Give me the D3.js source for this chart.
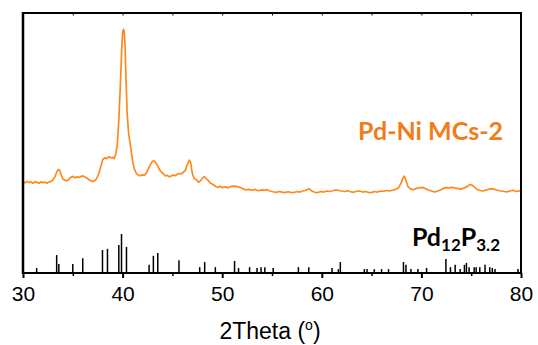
<!DOCTYPE html>
<html><head><meta charset="utf-8">
<script src="https://cdn.jsdelivr.net/npm/d3@7"></script>
<style>body{margin:0;background:#fff}svg{display:block}</style>
</head><body>
<script>
// XRD trace of Pd-Ni MCs-2 (2theta, intensity a.u.)
const twoTheta = [30.0,30.2,30.4,30.6,30.8,31.0,31.2,31.4,31.6,31.8,32.0,32.2,32.4,32.6,32.8,33.0,33.2,33.4,33.55,33.7,33.85,34.0,34.2,34.4,34.6,34.8,35.0,35.2,35.4,35.6,35.8,36.0,36.2,36.4,36.6,36.8,37.0,37.2,37.4,37.6,37.8,38.0,38.2,38.4,38.6,38.8,39.0,39.15,39.3,39.45,39.6,39.75,39.9,40.0,40.08,40.16,40.25,40.35,40.45,40.6,40.75,40.9,41.05,41.2,41.4,41.6,41.8,42.0,42.2,42.4,42.6,42.8,43.0,43.15,43.3,43.5,43.7,43.9,44.1,44.3,44.5,44.7,44.9,45.1,45.3,45.5,45.7,45.9,46.1,46.3,46.5,46.7,46.85,47.0,47.2,47.4,47.6,47.8,48.0,48.2,48.4,48.6,48.8,49.0,49.2,49.4,49.6,49.8,50.0,50.3,50.6,50.9,51.2,51.5,51.8,52.1,52.4,52.7,53.0,53.3,53.6,53.9,54.2,54.5,54.8,55.1,55.4,55.7,56.0,56.3,56.6,56.9,57.2,57.5,57.8,58.1,58.4,58.7,59.0,59.3,59.6,59.9,60.2,60.5,60.8,61.1,61.4,61.7,62.0,62.3,62.6,62.9,63.2,63.5,63.8,64.1,64.4,64.7,65.0,65.3,65.6,65.9,66.2,66.5,66.8,67.1,67.4,67.7,67.95,68.15,68.3,68.45,68.65,68.9,69.2,69.5,69.8,70.1,70.4,70.7,71.0,71.3,71.6,71.9,72.2,72.5,72.8,73.1,73.4,73.7,74.0,74.3,74.6,74.9,75.1,75.35,75.6,75.9,76.2,76.5,76.8,77.1,77.4,77.7,78.0,78.3,78.6,78.9,79.2,79.5,79.8,80.0];
const intensity = [354,349,355,350,353,347,354,351,348,353,350,352,348,353,355,360,372,392,401,396,378,364,359,357,362,371,374,369,372,370,373,376,372,368,362,357,354,358,366,384,410,438,445,442,449,446,447,442,458,490,575,700,850,925,937,930,870,740,620,540,500,460,424,400,385,378,377,380,378,388,405,420,432,434,428,417,400,390,384,376,378,372,376,379,377,383,385,384,390,397,420,436,425,385,365,362,352,356,366,373,365,358,349,345,340,334,333,336,331,334,330,336,337,335,332,326,322,324,321,324,319,322,321,323,318,315,313,316,314,312,315,313,312,316,314,318,321,327,318,313,312,316,314,318,316,319,322,320,318,316,319,315,313,317,318,314,316,312,313,316,314,318,317,320,318,321,324,330,348,368,375,358,335,326,323,328,330,332,327,322,318,314,317,322,328,331,330,332,329,327,325,330,335,343,340,332,324,320,318,322,325,327,324,320,318,316,315,318,321,316,319,317];
// Reference pattern Pd12P3.2 (stick positions and relative intensities)
const refPos = [31.37,33.38,33.6,35.0,36.0,37.98,38.48,39.62,39.89,40.39,42.66,43.09,43.53,45.66,47.74,48.24,49.31,51.24,51.64,52.75,53.5,53.9,54.28,55.12,57.65,58.69,61.03,61.66,61.86,64.27,64.54,65.27,66.0,66.7,68.2,68.45,68.95,69.65,70.52,72.46,72.92,73.39,73.89,74.32,74.52,74.79,75.3,75.5,75.86,76.39,76.86,77.12,77.39,79.7];
const refInt = [13,46,23,23,38,59,62,72,100,67,21,44,51,33,15,28,15,31,13,15,13,15,15,13,15,15,13,10,28,10,10,10,10,10,28,21,10,10,13,36,15,21,10,21,26,15,15,15,15,21,15,13,10,10];
const majorTicks = [30,40,50,60,70,80];
const minorTicks = [35,45,55,65,75];

const W = 538, H = 345;
const svg = d3.select("body").append("svg").attr("width", W).attr("height", H);
const L = 23, R = 521, T = 13, B = 273;
const x = d3.scaleLinear().domain([30, 80]).range([L, R]);
const y = d3.scaleLinear().domain([0, 1000]).range([274, 13]);
const yRef = d3.scaleLinear().domain([0, 100]).range([B, 234]);

// trace
svg.append("path")
  .datum(twoTheta.map((t, i) => [t, intensity[i]]))
  .attr("fill", "none").attr("stroke", "#ff8a1c").attr("stroke-width", 1.7)
  .attr("stroke-linejoin", "round")
  .attr("d", d3.line().x(d => x(d[0])).y(d => y(d[1])));

// sticks
svg.append("g").selectAll("line").data(refPos.map((p, i) => [p, refInt[i]])).join("line")
  .attr("x1", d => x(d[0])).attr("x2", d => x(d[0]))
  .attr("y1", yRef(0)).attr("y2", d => yRef(d[1]))
  .attr("stroke", "#000").attr("stroke-width", 1.5);

// bottom axis
const bottomAxis = svg.append("g").attr("transform", `translate(0,${B})`);
bottomAxis.call(d3.axisBottom(x).tickValues(majorTicks).tickSize(5).tickPadding(8).tickFormat(d3.format("d")));
bottomAxis.select(".domain").remove();
bottomAxis.selectAll(".tick line").attr("stroke-width", 2);
bottomAxis.selectAll(".tick text").attr("font-family", "Liberation Sans, Arial, sans-serif").attr("font-size", 21).attr("fill", "#000");
const bMinor = svg.append("g").attr("transform", `translate(0,${B})`);
bMinor.call(d3.axisBottom(x).tickValues(minorTicks).tickSize(3).tickFormat(""));
bMinor.select(".domain").remove();
bMinor.selectAll(".tick line").attr("stroke-width", 1.5);
// top ticks (inward)
const topAxis = svg.append("g").attr("transform", `translate(0,${T})`);
topAxis.call(d3.axisBottom(x).tickValues(majorTicks.concat(minorTicks)).tickSize(2.5).tickFormat(""));
topAxis.select(".domain").remove();
topAxis.selectAll(".tick line").attr("stroke-width", 1);

// frame
svg.append("rect").attr("x", L).attr("y", T).attr("width", R - L).attr("height", B - T)
  .attr("fill", "none").attr("stroke", "#000").attr("stroke-width", 2);
svg.append("line").attr("x1", L).attr("x2", L).attr("y1", T - 1).attr("y2", B + 1)
  .attr("stroke", "#000").attr("stroke-width", 2.5);

// axis title
const title = svg.append("text").attr("x", (L + R) / 2 - 2).attr("y", 339).attr("text-anchor", "middle")
  .attr("font-family", "Liberation Sans, Arial, sans-serif").attr("font-size", 23).attr("fill", "#000");
title.append("tspan").text("2Theta (");
title.append("tspan").attr("font-size", 14).attr("dy", -9).text("o");
title.append("tspan").attr("dy", 9).text(")");

// labels
svg.append("text").attr("x", 503).attr("y", 140).attr("text-anchor", "end")
  .attr("font-family", "Lato, Open Sans, sans-serif").attr("font-weight", "bold").attr("font-size", 25)
  .attr("fill", "#f07d1a").text("Pd-Ni MCs-2");
const ref = svg.append("text").attr("x", 500).attr("y", 246).attr("text-anchor", "end")
  .attr("font-family", "Lato, Open Sans, sans-serif").attr("font-weight", "bold").attr("font-size", 25).attr("fill", "#000");
ref.append("tspan").text("Pd");
ref.append("tspan").attr("font-size", 17).attr("dy", 5).text("12");
ref.append("tspan").attr("dy", -5).text("P");
ref.append("tspan").attr("font-size", 17).attr("dy", 5).text("3.2");
</script>
</body></html>
